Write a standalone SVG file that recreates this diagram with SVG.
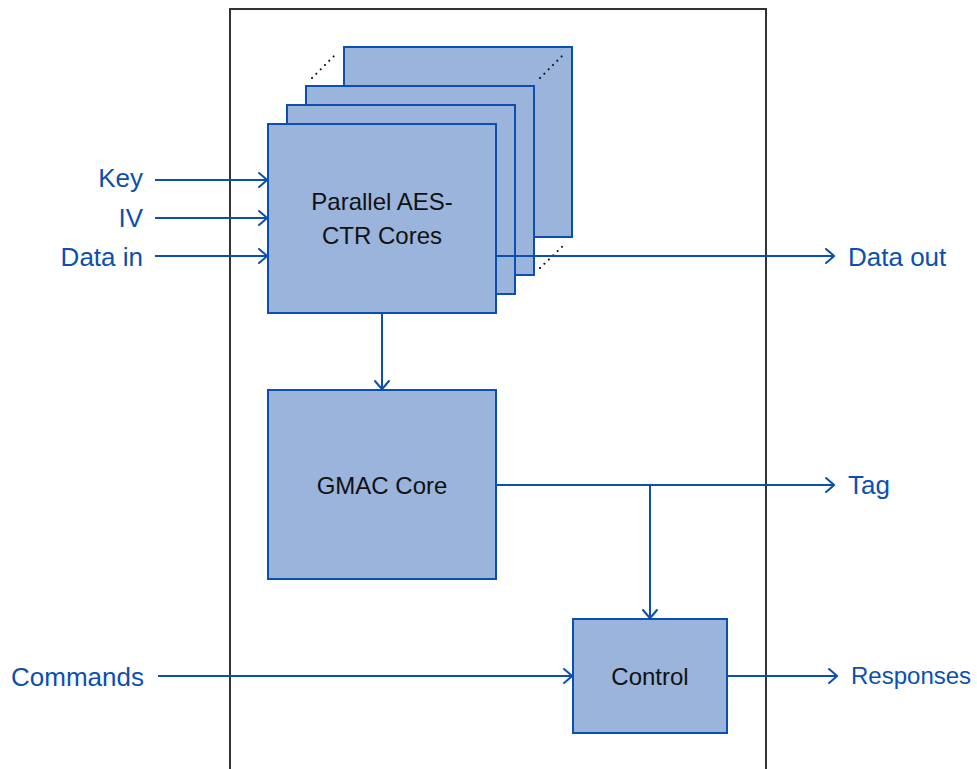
<svg xmlns="http://www.w3.org/2000/svg" width="977" height="769" viewBox="0 0 977 769">
<style>
.box{fill:#9ab4dc;stroke:#0b4fb0;stroke-width:2}
.wire{fill:none;stroke:#0b4fb0;stroke-width:2}
.dots{fill:none;stroke:#111;stroke-width:2;stroke-dasharray:0.1 6;stroke-linecap:round}
.lbl{font-family:"Liberation Sans",Arial,sans-serif;font-size:26px;fill:#0b4fb0}
.in{font-family:"Liberation Sans",Arial,sans-serif;font-size:24px;fill:#111;text-anchor:middle}
</style>
<defs>
<marker id="arr" markerUnits="userSpaceOnUse" markerWidth="18" markerHeight="18" viewBox="-11 -9 13 18" refX="0" refY="0" orient="auto">
<path d="M-8,-7 Q-2,-2 0,0 Q-2,2 -8,7" fill="none" stroke="#0b4fb0" stroke-width="2" stroke-linecap="round"/>
</marker>
</defs>
<rect id="outer" x="230" y="9" width="536" height="780" fill="none" stroke="#333" stroke-width="2"/>
<g id="aes-stack">
<rect class="box" x="344" y="47" width="228" height="190"/>
<line class="dots" x1="312" y1="78" x2="336" y2="54"/>
<line class="dots" x1="540" y1="78" x2="564" y2="54"/>
<line class="dots" x1="540" y1="268" x2="564" y2="245"/>
<rect class="box" x="306" y="86" width="228" height="189"/>
<rect class="box" x="287" y="105" width="228" height="189"/>
<rect class="box" x="268" y="124" width="228" height="189"/>
<text class="in" x="382" y="210">Parallel AES-</text>
<text class="in" x="382" y="244">CTR Cores</text>
</g>
<g id="gmac">
<rect class="box" x="268" y="390" width="228" height="189"/>
<text class="in" x="382" y="494">GMAC Core</text>
</g>
<g id="control">
<rect class="box" x="573" y="619" width="154" height="114"/>
<text class="in" x="650" y="685">Control</text>
</g>
<g id="connectors">
<line class="wire" x1="155" y1="180" x2="267" y2="180" marker-end="url(#arr)"/>
<line class="wire" x1="155" y1="218" x2="267" y2="218" marker-end="url(#arr)"/>
<line class="wire" x1="155" y1="256" x2="267" y2="256" marker-end="url(#arr)"/>
<line class="wire" x1="496" y1="256" x2="834" y2="256" marker-end="url(#arr)"/>
<line class="wire" x1="382" y1="313" x2="382" y2="389" marker-end="url(#arr)"/>
<line class="wire" x1="496" y1="485" x2="834" y2="485" marker-end="url(#arr)"/>
<polyline class="wire" points="650,485 650,618" marker-end="url(#arr)"/>
<line class="wire" x1="158" y1="676" x2="572" y2="676" marker-end="url(#arr)"/>
<line class="wire" x1="727" y1="676" x2="837" y2="676" marker-end="url(#arr)"/>
</g>
<g id="labels">
<text class="lbl" x="143" y="187" text-anchor="end">Key</text>
<text class="lbl" x="143" y="227" text-anchor="end">IV</text>
<text class="lbl" x="143" y="266" text-anchor="end">Data in</text>
<text class="lbl" x="848" y="266">Data out</text>
<text class="lbl" x="848" y="494">Tag</text>
<text class="lbl" x="11" y="686">Commands</text>
<text class="lbl" x="851" y="684" style="font-size:24px">Responses</text>
</g>
</svg>
